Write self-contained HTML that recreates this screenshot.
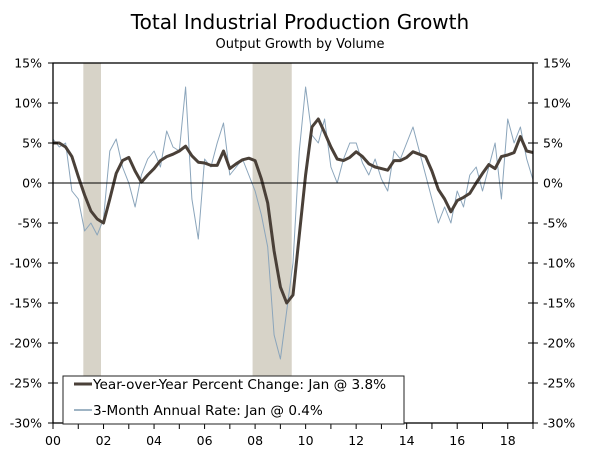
<!DOCTYPE html>
<html><head><meta charset="utf-8"><style>
body{margin:0;background:#fff}
svg{display:block;font-family:"DejaVu Sans","Liberation Sans",sans-serif}
</style></head><body>
<svg id="chart" width="600" height="451">
<text x="300" y="29" text-anchor="middle" font-size="20" fill="#000">Total Industrial Production Growth</text>
<text x="300" y="48" text-anchor="middle" font-size="13" fill="#000">Output Growth by Volume</text>
<g id="rec"></g><g id="grid"></g><g id="series"></g><g id="axes"></g>
<g>
<rect x="63" y="376" width="341" height="48" fill="#fff" stroke="#222" stroke-width="1"/>
<line x1="74" y1="384" x2="92" y2="384" stroke="#4a4038" stroke-width="3"/>
<text x="93" y="389" font-size="13.6">Year-over-Year Percent Change: Jan @ 3.8%</text>
<line x1="74" y1="410" x2="92" y2="410" stroke="#9fb4c4" stroke-width="2"/>
<text x="93" y="415" font-size="13.6">3-Month Annual Rate: Jan @ 0.4%</text>
</g>
</svg>
<script>
const yoy=[5.0,5.0,4.5,3.3,0.8,-1.5,-3.5,-4.5,-5.0,-2.0,1.2,2.8,3.2,1.5,0.1,1.0,1.8,2.8,3.3,3.6,4.0,4.6,3.4,2.6,2.5,2.2,2.2,4.0,1.8,2.4,2.9,3.1,2.8,0.5,-2.5,-8.5,-13,-15.0,-14.0,-6.5,1.0,7.0,8.0,6.3,4.5,3.0,2.8,3.2,3.9,3.3,2.4,2.0,1.8,1.6,2.8,2.8,3.2,3.9,3.6,3.3,1.5,-0.8,-2.0,-3.6,-2.2,-1.8,-1.3,0.0,1.2,2.3,1.8,3.3,3.5,3.8,5.8,4.0,3.8];
const rate3m=[5.5,4.5,5,-1,-2,-6,-5,-6.5,-4.5,4,5.5,2,0,-3,1,3,4,2,6.5,4.5,4,12,-2,-7,3,2,5,7.5,1,2,3,1,-1,-4,-8,-19,-22,-16,-10,4,12,6,5,8,2,0,3,5,5,2.5,1,3,0.5,-1,4,3,5,7,4,1,-2,-5,-3,-5,-1,-3,1,2,-1,2,5,-2,8,5,7,3,0.4];
const recessions=[[2001.2,2001.9],[2007.9,2009.45]];
const yTicks=[15,10,5,0,-5,-10,-15,-20,-25,-30];
const xLabels=["00","02","04","06","08","10","12","14","16","18"];
const X0=53,X1=533,Y0=63,Y1=423;
const xs=t=>X0+(t-2000)/19*(X1-X0);
const ys=v=>Y0+(15-v)/45*(Y1-Y0);
const NS="http://www.w3.org/2000/svg";
function mk(tag,attrs,parent){const e=document.createElementNS(NS,tag);for(const k in attrs)e.setAttribute(k,attrs[k]);document.getElementById(parent).appendChild(e);return e;}
recessions.forEach(r=>{const e=mk('rect',{x:xs(r[0]),y:Y0,width:xs(r[1])-xs(r[0]),height:Y1-Y0,fill:'#d7d3c8'},'rec');

});
function line(arr,stroke,w,name){const pts=arr.map((v,i)=>xs(2000+i*0.25).toFixed(1)+','+ys(v).toFixed(1)).join(' ');
const e=mk('polyline',{points:pts,fill:'none',stroke:stroke,'stroke-width':w,'stroke-linejoin':'round'},'series');

}
line(rate3m,'#8ba5bb',1,'line-3-month-rate');
line(yoy,'#4a4038',3,'line-year-over-year');
let z=mk('line',{x1:X0,x2:X1,y1:ys(0),y2:ys(0),stroke:'#000','stroke-width':1},'axes');


let fr=mk('rect',{x:X0,y:Y0,width:X1-X0,height:Y1-Y0,fill:'none',stroke:'#000','stroke-width':1.3},'axes');


yTicks.forEach(v=>{const y=ys(v);
mk('line',{x1:X0-5,x2:X0+5,y1:y,y2:y,stroke:'#000'},'axes');
mk('line',{x1:X1-5,x2:X1+5,y1:y,y2:y,stroke:'#000'},'axes');
const l=mk('text',{x:X0-11,y:y+4.5,'text-anchor':'end','font-size':12.5},'axes');l.textContent=v+'%';


const r=mk('text',{x:X1+10,y:y+4.5,'font-size':12.5},'axes');r.textContent=v+'%';

});
for(let yr=2000;yr<=2019;yr++){mk('line',{x1:xs(yr),x2:xs(yr),y1:Y1,y2:Y1+6,stroke:'#000'},'axes');}
xLabels.forEach((s,i)=>{const t=mk('text',{x:xs(2000+2*i),y:Y1+22,'text-anchor':'middle','font-size':12.5},'axes');t.textContent=s;

});
</script>
</body></html>
